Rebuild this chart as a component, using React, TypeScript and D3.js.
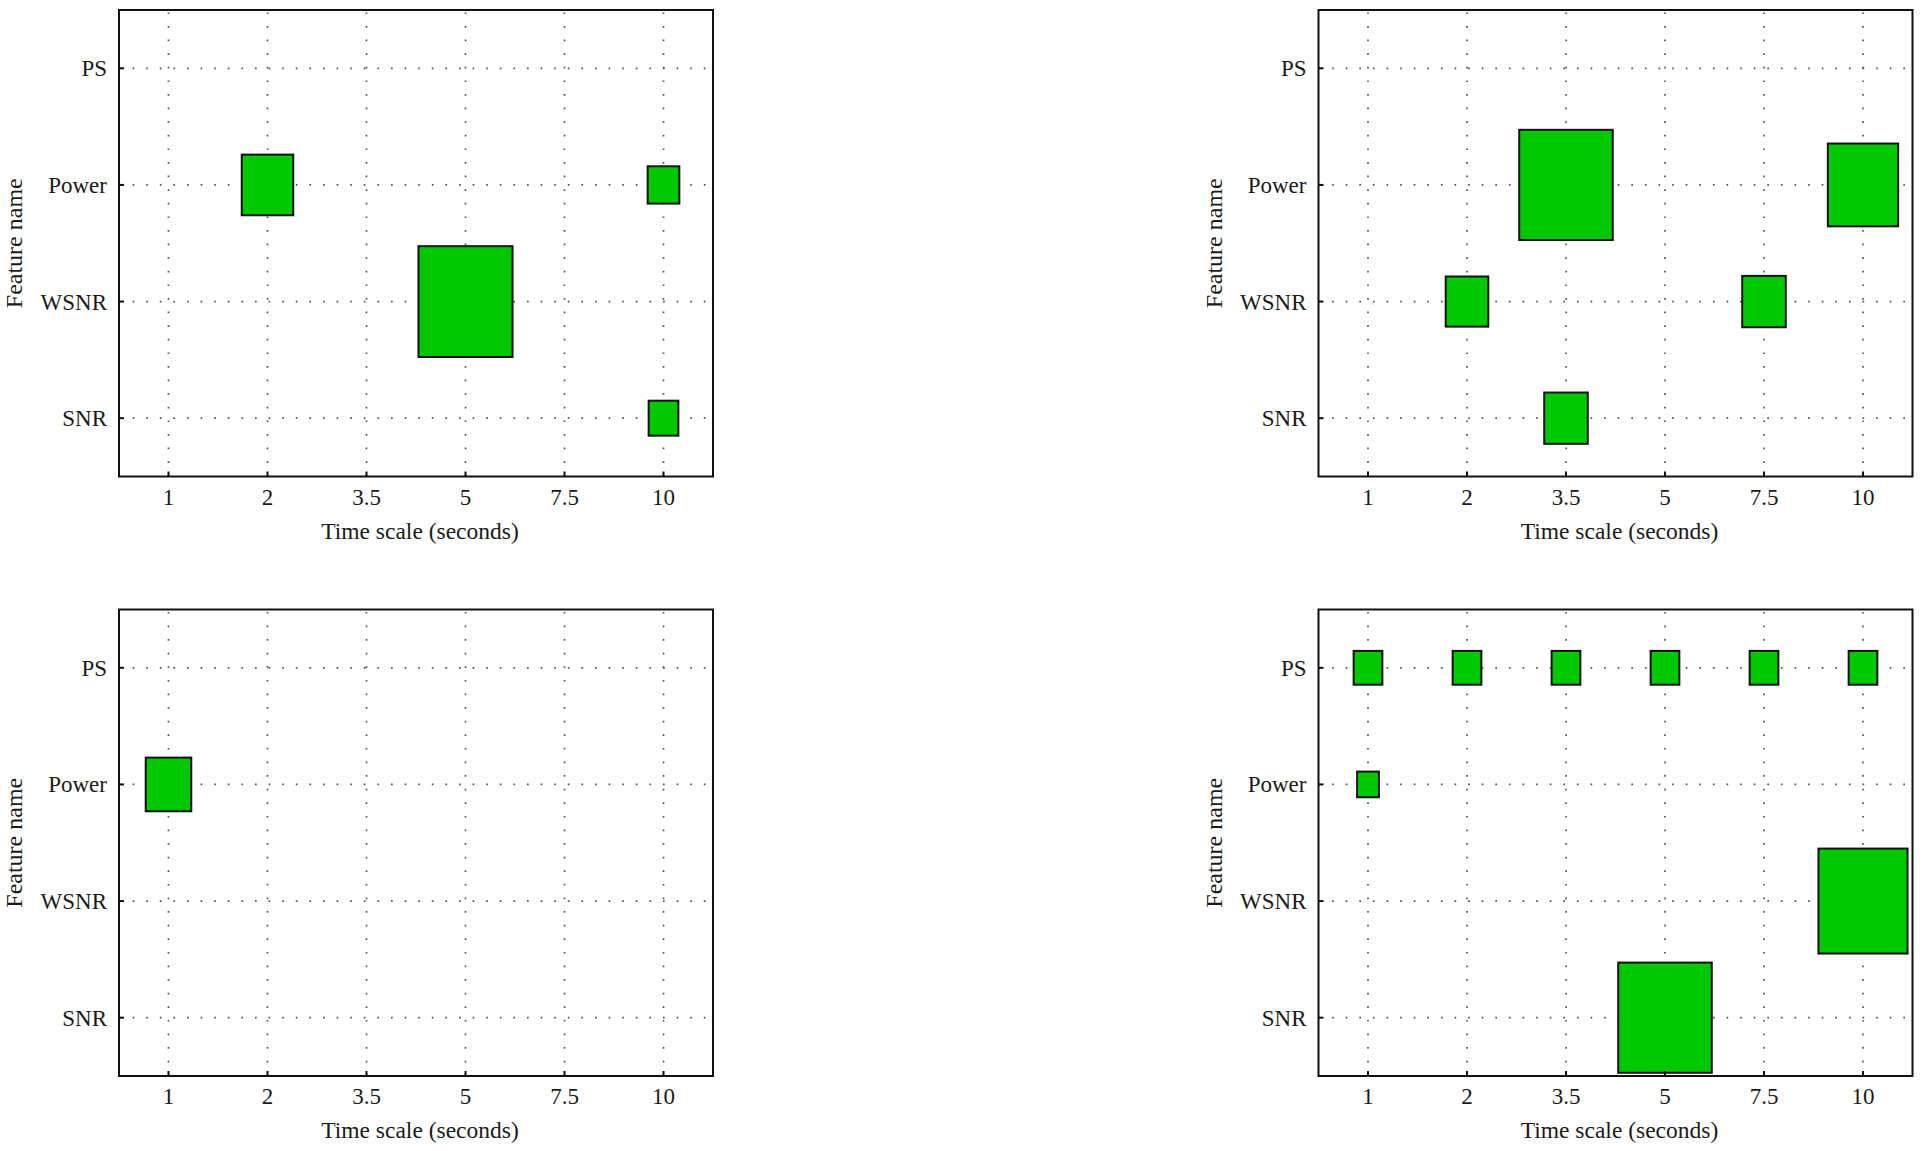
import React from "react";
import * as d3 from "d3";

// ---- Data ----
const timeScales = ["1", "2", "3.5", "5", "7.5", "10"];
const features = ["PS", "Power", "WSNR", "SNR"];

// [feature, time scale, relative box size (in category units)]
const panelA: [string, string, number][] = [
  ["Power", "2", 0.52],
  ["Power", "10", 0.32],
  ["WSNR", "5", 0.95],
  ["SNR", "10", 0.3],
];
const panelB: [string, string, number][] = [
  ["Power", "3.5", 0.945],
  ["Power", "10", 0.71],
  ["WSNR", "2", 0.43],
  ["WSNR", "7.5", 0.44],
  ["SNR", "3.5", 0.44],
];
const panelC: [string, string, number][] = [["Power", "1", 0.46]];
const panelD: [string, string, number][] = [
  ["PS", "1", 0.29],
  ["PS", "2", 0.29],
  ["PS", "3.5", 0.29],
  ["PS", "5", 0.29],
  ["PS", "7.5", 0.29],
  ["PS", "10", 0.29],
  ["Power", "1", 0.22],
  ["WSNR", "10", 0.9],
  ["SNR", "5", 0.945],
];

const xTitle = "Time scale (seconds)";
const yTitle = "Feature name";

// ---- Layout ----
const W = 1924;
const H = 1151;
const PW = 594;
const PH = 466.5;
const panels = [
  { data: panelA, x: 119, y: 10 },
  { data: panelB, x: 1318.5, y: 10 },
  { data: panelC, x: 119, y: 609.5 },
  { data: panelD, x: 1318.5, y: 609.5 },
];

const FONT = "'Liberation Serif', 'DejaVu Serif', serif";
const FILL = "#00c800";
const TEXT = "#1a1a1a";

function Panel({ data, x0, y0 }: { data: [string, string, number][]; x0: number; y0: number }) {
  const xs = d3.scalePoint<string>().domain(timeScales).range([0, PW]).padding(0.5);
  const ys = d3.scalePoint<string>().domain(features).range([0, PH]).padding(0.5);
  const sx = xs.step();
  const sy = ys.step();
  return (
    <g transform={`translate(${x0},${y0})`}>
      {/* grid */}
      {timeScales.map((t) => (
        <line
          key={"gx" + t}
          x1={xs(t)}
          x2={xs(t)}
          y1={PH}
          y2={0}
          stroke="#555"
          strokeWidth={1.7}
          strokeDasharray="1.7 11.9"
        />
      ))}
      {features.map((f) => (
        <line
          key={"gy" + f}
          x1={0}
          x2={PW}
          y1={ys(f)}
          y2={ys(f)}
          stroke="#555"
          strokeWidth={1.7}
          strokeDasharray="1.7 11.9"
        />
      ))}
      {/* boxes */}
      {data.map(([f, t, s], i) => {
        const cx = xs(t)!;
        const cy = ys(f)!;
        const w = s * sx;
        const h = s * sy;
        return (
          <rect
            key={i}
            x={cx - w / 2}
            y={cy - h / 2}
            width={w}
            height={h}
            fill={FILL}
            stroke="#111"
            strokeWidth={2}
          />
        );
      })}
      {/* frame */}
      <rect x={0} y={0} width={PW} height={PH} fill="none" stroke="#111" strokeWidth={2} />
      {/* ticks */}
      {timeScales.map((t) => (
        <line key={"tx" + t} x1={xs(t)} x2={xs(t)} y1={PH} y2={PH - 5} stroke="#111" strokeWidth={2} />
      ))}
      {features.map((f) => (
        <line key={"ty" + f} x1={0} x2={5} y1={ys(f)} y2={ys(f)} stroke="#111" strokeWidth={2} />
      ))}
      {/* tick labels */}
      {timeScales.map((t) => (
        <text
          key={"lx" + t}
          x={xs(t)}
          y={PH + 28}
          textAnchor="middle"
          fontFamily={FONT}
          fontSize={23}
          fill={TEXT}
        >
          {t}
        </text>
      ))}
      {features.map((f) => (
        <text
          key={"ly" + f}
          x={-12}
          y={ys(f)! + 8}
          textAnchor="end"
          fontFamily={FONT}
          fontSize={23}
          fill={TEXT}
        >
          {f}
        </text>
      ))}
      {/* titles */}
      <text
        x={PW / 2 + 4}
        y={PH + 62}
        textAnchor="middle"
        fontFamily={FONT}
        fontSize={23.5}
        fill={TEXT}
      >
        {xTitle}
      </text>
      <text
        transform={`translate(${-97},${PH / 2}) rotate(-90)`}
        textAnchor="middle"
        fontFamily={FONT}
        fontSize={24}
        fill={TEXT}
      >
        {yTitle}
      </text>
    </g>
  );
}

export default function App() {
  return (
    <svg
      width={W}
      height={H}
      viewBox={`0 0 ${W} ${H}`}
      style={{ position: "absolute", left: 0, top: 0, background: "#fff" }}
    >
      <rect x={0} y={0} width={W} height={H} fill="#fff" />
      {panels.map((p, i) => (
        <Panel key={i} data={p.data} x0={p.x} y0={p.y} />
      ))}
    </svg>
  );
}
